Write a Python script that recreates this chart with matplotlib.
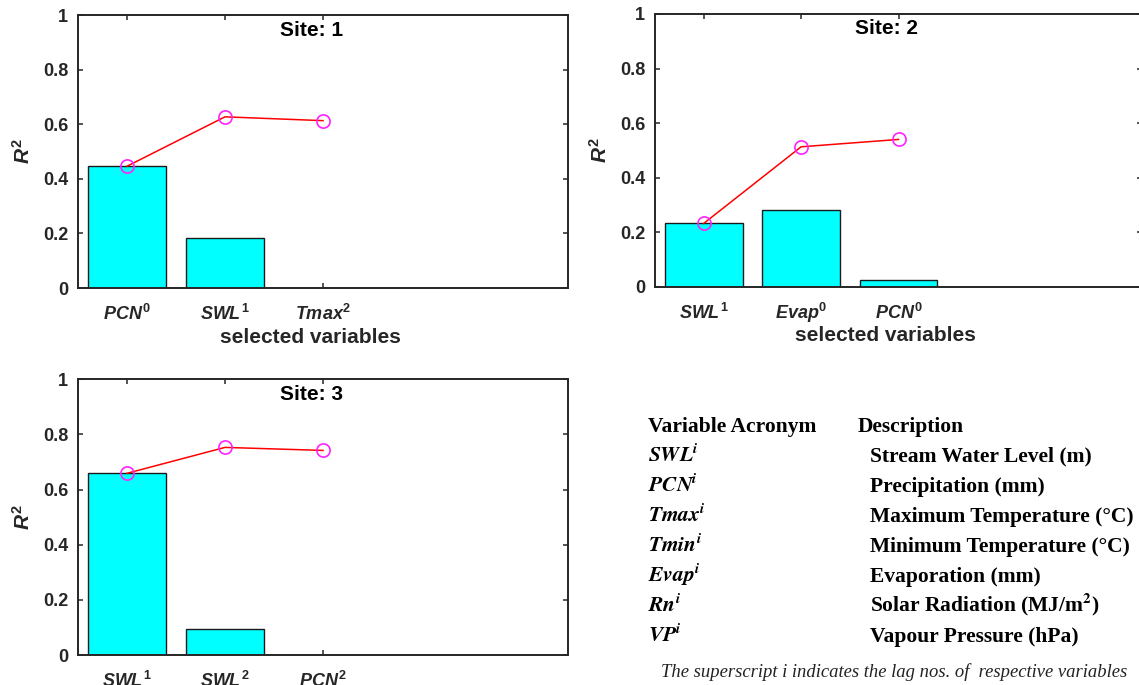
import matplotlib.pyplot as plt

plt.rcParams.update({
    "font.family": "Liberation Sans",
    "font.weight": "bold",
    "mathtext.fontset": "custom",
    "mathtext.it": "Liberation Sans:italic:bold",
    "mathtext.rm": "Liberation Sans:bold",
    "mathtext.bf": "Liberation Sans:bold",
    "mathtext.bfit": "Liberation Sans:italic:bold",
})

W, H = 1139, 685

# selected variables, lag numbers, individual R2 (bars) and cumulative R2 (line)
site1_vars = ["PCN", "SWL", "Tmax"]
site1_lags = [0, 1, 2]
site1_r2 = [0.446, 0.182, 0.0]
site1_cum = [0.446, 0.627, 0.613]

site2_vars = ["SWL", "Evap", "PCN"]
site2_lags = [1, 0, 0]
site2_r2 = [0.232, 0.281, 0.024]
site2_cum = [0.232, 0.513, 0.540]

site3_vars = ["SWL", "SWL", "PCN"]
site3_lags = [1, 2, 2]
site3_r2 = [0.659, 0.093, 0.0]
site3_cum = [0.659, 0.753, 0.742]

yticks = [0, 0.2, 0.4, 0.6, 0.8, 1]
ytick_labels = ["0", "0.2", "0.4", "0.6", "0.8", "1"]

acronyms = ["SWL", "PCN", "Tmax", "Tmin", "Evap", "Rn", "VP"]
descriptions = [
    "Stream Water Level (m)",
    "Precipitation (mm)",
    "Maximum Temperature (°C)",
    "Minimum Temperature (°C)",
    "Evaporation (mm)",
    r"Solar Radiation (MJ/m$^{\mathbf{2}}$)",
    "Vapour Pressure (hPa)",
]


def box(left, top, right, bottom):
    """pixel box -> figure fraction rect"""
    return [left / W, 1 - bottom / H, (right - left) / W, (bottom - top) / H]


def site_panel(ax, site, names, lags, r2, cum, xlabel=True):
    x = list(range(1, len(names) + 1))
    ax.bar(x, r2, width=0.8, color="#00FFFF", edgecolor="#1a1a1a",
           linewidth=1.0, zorder=2)
    ax.plot(x, cum, color="red", linewidth=1.1, zorder=3)
    ax.plot(x, cum, "o", mfc="none", mec="#FF22FF", ms=9.5, mew=1.2, zorder=4)

    ax.set_xlim(0.5, 5.5)
    ax.set_ylim(0, 1)
    ax.set_xticks(x)
    ax.set_xticklabels([rf"${n}^{{\mathit{{{l}}}}}$" for n, l in zip(names, lags)],
                       fontsize=13)
    # align the lagged names on a common baseline
    for lab in ax.get_xticklabels():
        lab.set_va("baseline")
    ax.set_yticks(yticks)
    ax.set_yticklabels(ytick_labels, fontsize=13)
    ax.tick_params(direction="in", length=3.6, width=1.1, top=True, right=True,
                   color="#262626", labelcolor="#262626")
    ax.tick_params(axis="y", pad=7)
    ax.tick_params(axis="x", pad=23)
    for sp in ax.spines.values():
        sp.set_color("#262626")
        sp.set_linewidth(1.4)

    ax.text(0.476, 0.945, f"Site: {site}", transform=ax.transAxes,
            ha="center", va="center", fontsize=15, fontweight="bold")

    ax.set_ylabel(r"$R^2$", fontsize=15, color="#262626")
    ax.yaxis.label.set_va("center")
    ax.yaxis.set_label_coords(-55 / 490, 0.5)
    if xlabel:
        ax.set_xlabel("selected variables", fontsize=15, fontweight="bold",
                      color="#262626")
        ax.xaxis.label.set_va("center")
        ax.xaxis.set_label_coords(0.474, -49 / 273)


fig = plt.figure(figsize=(W / 100, H / 100), dpi=100)

ax1 = fig.add_axes(box(78, 15, 568, 288))
site_panel(ax1, 1, site1_vars, site1_lags, site1_r2, site1_cum)

ax2 = fig.add_axes(box(655, 14, 1142, 286.7))
site_panel(ax2, 2, site2_vars, site2_lags, site2_r2, site2_cum)

ax3 = fig.add_axes(box(78, 379.3, 568, 655))
site_panel(ax3, 3, site3_vars, site3_lags, site3_r2, site3_cum, xlabel=False)

# variable table
serif = "Liberation Serif"
fig.text(648 / W, 1 - 431.7 / H, "Variable Acronym", family=serif,
         fontweight="bold", fontsize=15.5, va="baseline")
fig.text(858 / W, 1 - 431.7 / H, "Description", family=serif,
         fontweight="bold", fontsize=15.5, va="baseline")
for i, (acr, desc) in enumerate(zip(acronyms, descriptions)):
    yb = 1 - (461.7 + 30 * i) / H
    fig.text(648 / W, yb, rf"$\mathbfit{{{acr}}}^{{\mathbfit{{i}}}}$",
             math_fontfamily="stix", fontsize=15.5, va="baseline")
    fig.text(870 / W, yb, desc, family=serif, fontweight="bold",
             fontsize=15.5, va="baseline", math_fontfamily="stix")

fig.text(894 / W, 1 - 676.7 / H,
         "The superscript i indicates the lag nos. of  respective variables",
         family=serif, style="italic", fontweight="normal", fontsize=13.4,
         ha="center", va="baseline", color="#222222")

fig.savefig("out.png", dpi=100)
